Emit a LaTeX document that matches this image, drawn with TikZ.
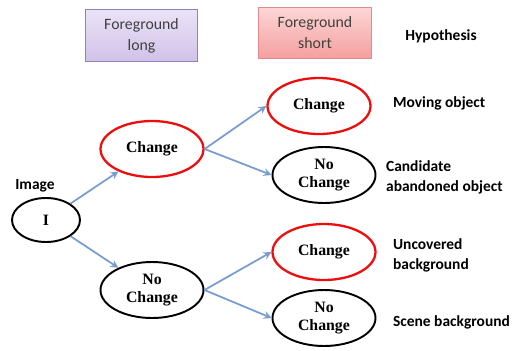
\documentclass[tikz,border=0pt]{standalone}
\usepackage{fontspec}
\setmainfont{Liberation Serif}
\setsansfont{Carlito}
\usetikzlibrary{shapes.geometric}
\definecolor{arrowBlue}{rgb}{0.47, 0.61, 0.81}
\definecolor{brightRed}{rgb}{0.93, 0.05, 0.05}
\definecolor{lilacTop}{rgb}{0.92, 0.89, 0.97}
\definecolor{lilacBottom}{rgb}{0.82, 0.76, 0.91}
\definecolor{lilacEdge}{rgb}{0.58, 0.50, 0.75}
\definecolor{pinkTop}{rgb}{0.99, 0.84, 0.84}
\definecolor{pinkBottom}{rgb}{0.96, 0.62, 0.62}
\definecolor{pinkEdge}{rgb}{0.88, 0.55, 0.55}

\begin{document}
\begin{tikzpicture}[>=stealth,
		state/.style={ellipse, draw, line width=1.1pt, inner sep=0pt, align=center,
			minimum width=2.06cm, minimum height=1.12cm,
			font=\fontsize{9}{10.5}\selectfont\bfseries},
		hit/.style={state, draw=brightRed, line width=1.3pt},
		stage/.style={rectangle, draw, thin, align=center, minimum width=2.25cm, minimum height=1.03cm,
			font=\sffamily\fontsize{9}{12}\selectfont, text=black!75},
		hyp/.style={font=\sffamily\bfseries\fontsize{8.8}{11.4}\selectfont, align=left, inner sep=1pt},
		link/.style={->, draw=arrowBlue, line width=1pt}]
			\useasboundingbox (0,0) rectangle (10.3,7);

			% Stage headers
			\node[stage, top color=lilacTop, bottom color=lilacBottom, draw=lilacEdge] (fglong) at (2.83,6.29) {Foreground\\long};
			\node[stage, top color=pinkTop, bottom color=pinkBottom, draw=pinkEdge] (fgshort) at (6.30,6.34) {Foreground\\short};
			\node[hyp] (hypo) at (8.82,6.28) {Hypothesis};

			% Input image
			\node[state, minimum width=1.36cm, minimum height=0.88cm] (img) at (0.92,2.60) {I};
			\node[hyp] (imglabel) at (0.70,3.28) {Image};

			% Long foreground
			\node[hit] (chg) at (3.04,4.02) {Change};
			\node[state] (nochg) at (3.04,1.20) {No\\Change};

			% Short foreground
			\node[hit] (chgchg) at (6.38,4.88) {Change};
			\node[state] (chgno) at (6.48,3.50) {No\\Change};
			\node[hit] (nochgchg) at (6.48,1.96) {Change};
			\node[state] (nochgno) at (6.48,0.64) {No\\Change};

			% Hypotheses
			\node[hyp, anchor=west] (moving) at (7.82,4.94) {Moving object};
			\node[hyp, anchor=west] (abandoned) at (7.68,3.46) {Candidate\\abandoned object};
			\node[hyp, anchor=west] (uncovered) at (7.82,1.90) {Uncovered\\background};
			\node[hyp, anchor=west] (scene) at (7.82,0.56) {Scene background};

			% Draw mappings
			\draw[link] (img) -- (chg);
			\draw[link] (img) -- (nochg);
			\draw[link] (chg.east) -- (chgchg.west);
			\draw[link] (chg.east) -- (chgno.west);
			\draw[link] (nochg.east) -- (nochgchg.west);
			\draw[link] (nochg.east) -- (nochgno.west);
		\end{tikzpicture}
\end{document}
